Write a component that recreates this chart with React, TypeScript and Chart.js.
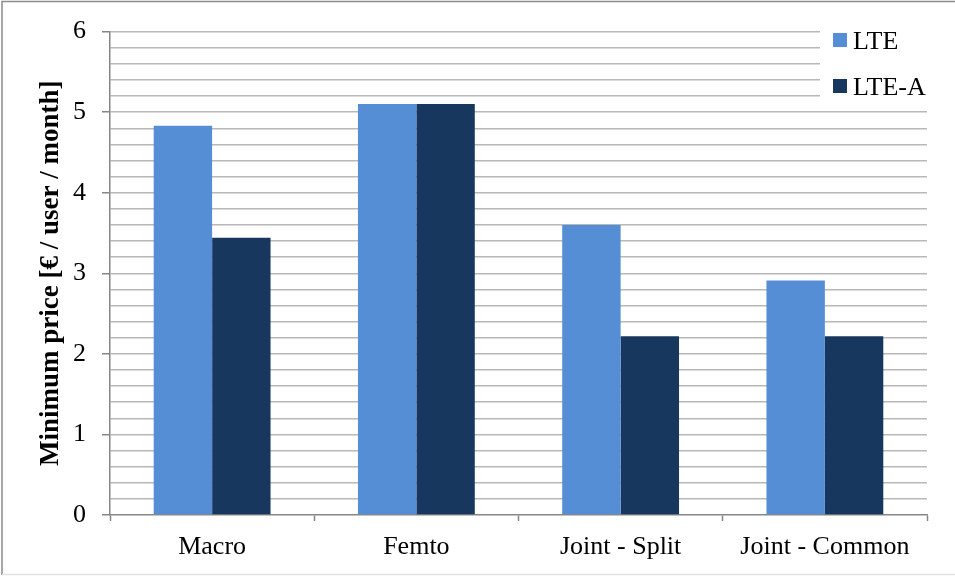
import React, { useEffect, useRef } from "react";
import { Chart, registerables } from "chart.js";

Chart.register(...registerables);

const categories = ["Macro", "Femto", "Joint - Split", "Joint - Common"];
const lteValues = [4.83, 5.1, 3.6, 2.91];
const lteAValues = [3.44, 5.1, 2.22, 2.22];
const seriesLabels = ["LTE", "LTE-A"];
const seriesColors = ["#558ED5", "#17375E"];

const FONT = "'Liberation Serif', 'Times New Roman', serif";
const AXIS_GRAY = "#868686";
const GRID_GRAY = "#B8B8B8";

const isMajor = (v: number) => Math.abs(v - Math.round(v)) < 1e-6;

// Frame edges of the figure plus a legend box in the upper-right corner.
const framePlugin = {
  id: "frameAndLegend",
  afterDraw(chart: Chart) {
    const ctx = chart.ctx;
    const area = chart.chartArea;
    ctx.save();
    // legend panel hides the gridlines behind it
    ctx.fillStyle = "#FFFFFF";
    ctx.fillRect(820, 22, area.right - 820 + 2, 80);
    ctx.font = `26px ${FONT}`;
    ctx.textBaseline = "alphabetic";
    ctx.textAlign = "left";
    chart.data.datasets.forEach((ds: any, i: number) => {
      const y = 33 + i * 46;
      ctx.fillStyle = ds.backgroundColor as string;
      ctx.fillRect(833, y, 14, 14);
      ctx.fillStyle = "#000000";
      ctx.fillText(ds.label, 853, y + 16);
    });
    // figure frame: solid top and left, faint bottom
    ctx.lineWidth = 1.5;
    ctx.strokeStyle = "#8C8C8C";
    ctx.beginPath();
    ctx.moveTo(2, chart.height - 2);
    ctx.lineTo(2, 1.5);
    ctx.lineTo(chart.width, 1.5);
    ctx.stroke();
    ctx.strokeStyle = "#E2E2E2";
    ctx.beginPath();
    ctx.moveTo(2, chart.height - 2.5);
    ctx.lineTo(chart.width, chart.height - 2.5);
    ctx.stroke();
    ctx.restore();
  },
};

export default function App() {
  const canvasRef = useRef<HTMLCanvasElement | null>(null);

  useEffect(() => {
    document.body.style.margin = "0";
    const canvas = canvasRef.current;
    if (!canvas) return;
    const chart = new Chart(canvas, {
      type: "bar",
      data: {
        labels: categories,
        datasets: [
          {
            label: seriesLabels[0],
            data: lteValues,
            backgroundColor: seriesColors[0],
            categoryPercentage: 0.572,
            barPercentage: 1,
          },
          {
            label: seriesLabels[1],
            data: lteAValues,
            backgroundColor: seriesColors[1],
            categoryPercentage: 0.572,
            barPercentage: 1,
          },
        ],
      },
      options: {
        responsive: false,
        animation: false,
        layout: { padding: { top: 31, right: 28, left: 0, bottom: 0 } },
        plugins: {
          legend: { display: false },
          tooltip: { enabled: false },
        },
        scales: {
          x: {
            grid: {
              offset: true,
              drawOnChartArea: false,
              drawTicks: true,
              tickLength: 6,
              tickColor: AXIS_GRAY,
              tickWidth: 1.5,
            },
            border: { color: AXIS_GRAY, width: 1.5 },
            ticks: {
              color: "#000000",
              font: { family: FONT, size: 26 },
              padding: 11,
              maxRotation: 0,
            },
            afterFit(scale: any) {
              scale.height = 62;
            },
          },
          y: {
            min: 0,
            max: 6,
            grid: {
              color: (c: any) => (c.tick && c.tick.value === 0 ? "rgba(0,0,0,0)" : GRID_GRAY),
              lineWidth: 1.5,
              drawTicks: true,
              tickLength: 8,
              tickColor: (c: any) => (c.tick && isMajor(c.tick.value) ? AXIS_GRAY : "rgba(0,0,0,0)"),
              tickWidth: 1.5,
            },
            border: { color: AXIS_GRAY, width: 1.5 },
            ticks: {
              stepSize: 0.2,
              autoSkip: false,
              color: "#000000",
              font: { family: FONT, size: 26 },
              padding: 16,
              callback: (v: any) => (isMajor(Number(v)) ? String(Math.round(Number(v))) : ""),
            },
            title: {
              display: true,
              text: "Minimum price [€ / user / month]",
              color: "#000000",
              font: { family: FONT, size: 27, weight: "bold" },
              padding: { top: 35, bottom: 0 },
            },
            afterFit(scale: any) {
              scale.width = 110;
            },
          },
        },
      },
      plugins: [framePlugin],
    });
    return () => chart.destroy();
  }, []);

  return (
    <div style={{ position: "absolute", left: 0, top: 0, width: 955, height: 577, background: "#FFFFFF" }}>
      <canvas ref={canvasRef} width={955} height={577} style={{ display: "block" }} />
    </div>
  );
}
